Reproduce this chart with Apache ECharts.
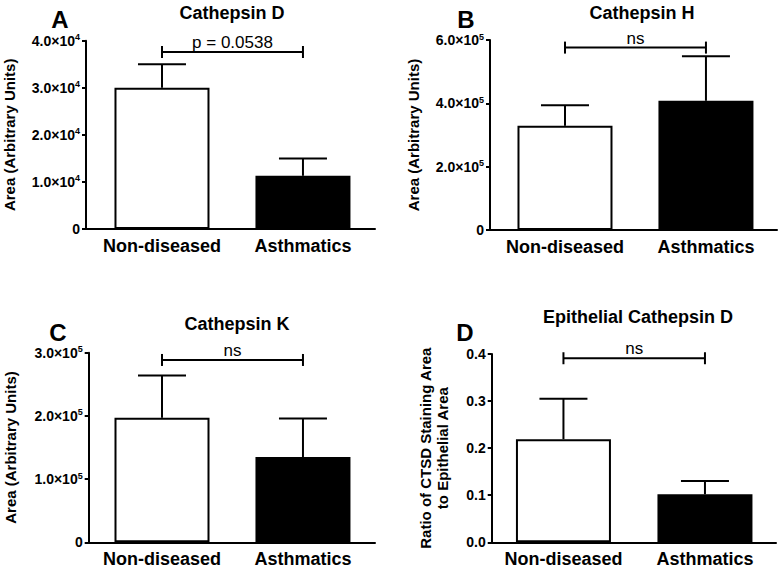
<!DOCTYPE html>
<html>
<head>
<meta charset="utf-8">
<script src="https://cdn.jsdelivr.net/npm/echarts@6/dist/echarts.min.js"></script>
<style>
html, body { margin: 0; padding: 0; background: #fff; }
#chart { width: 782px; height: 569px; }
</style>
</head>
<body>
<div id="chart"></div>
<script>
// groups on the x axis
var groups = ['Non-diseased', 'Asthmatics'];

// bar heights (mean) and upper error (SEM) per panel
var cathDMean = [30000, 11300];
var cathDSem = [5000, 3700];
var cathHMean = [329000, 408000];
var cathHSem = [65000, 141000];
var cathKMean = [197000, 135000];
var cathKSem = [67000, 61000];
var epiDMean = [0.219, 0.102];
var epiDSem = [0.086, 0.028];

// significance brackets
var bracketY = [37600, 576000, 288500, 0.391];
var bracketText = ['p = 0.0538', 'ns', 'ns', 'ns'];

// y axis ticks: max, step, power of ten shown in the labels
var yMax = [40000, 600000, 300000, 0.4];
var yStep = [10000, 200000, 100000, 0.1];
var yPow = [4, 5, 5, 0];

var titles = ['Cathepsin D', 'Cathepsin H', 'Cathepsin K', 'Epithelial Cathepsin D'];
var letters = ['A', 'B', 'C', 'D'];
var yNames = ['Area (Arbitrary Units)', 'Area (Arbitrary Units)', 'Area (Arbitrary Units)',
	'Ratio of CTSD Staining Area\nto Epithelial Area'];

var means = [cathDMean, cathHMean, cathKMean, epiDMean];
var sems = [cathDSem, cathHSem, cathKSem, epiDSem];

var FONT = '"Liberation Sans", Arial, Helvetica, sans-serif';

/* layout of the four panels (pixels) */
var grids = [
	{ left: 86, top: 40.7, width: 289, height: 188.3 },
	{ left: 490, top: 40, width: 287, height: 190 },
	{ left: 88.7, top: 352.7, width: 286.3, height: 189.6 },
	{ left: 491.7, top: 354, width: 284.3, height: 188.3 }
];
var xRange = [[-0.539, 1.511], [-0.532, 1.504], [-0.52, 1.511], [-0.507, 1.502]];
var nameGaps = [68, 68, 70, 41];
var titlePos = [[232, 13], [642, 13], [237, 324], [638, 317]];
var letterPos = [[60, 19], [466, 19], [58, 332], [465, 332]];

function tickFormatter(i) {
	return function (v) {
		if (yPow[i] === 0) return v.toFixed(1);
		if (v === 0) return '0';
		var m = (v / Math.pow(10, yPow[i])).toFixed(1);
		return '{m|' + m + '×10}{e|' + yPow[i] + '}';
	};
}

var option = {
	animation: false,
	grid: [],
	xAxis: [],
	yAxis: [],
	series: [],
	graphic: []
};

for (var i = 0; i < 4; i++) {
	option.grid.push(grids[i]);

	option.xAxis.push({
		gridIndex: i,
		type: 'value',
		min: xRange[i][0],
		max: xRange[i][1],
		axisLine: { show: true, onZero: false, lineStyle: { color: '#000', width: 2 } },
		axisTick: { show: false },
		splitLine: { show: false },
		axisLabel: {
			customValues: [0, 1],
			formatter: function (v) { return groups[v] || ''; },
			margin: 8,
			color: '#000',
			fontFamily: FONT,
			fontWeight: 'bold',
			fontSize: 18
		}
	});

	option.yAxis.push({
		gridIndex: i,
		type: 'value',
		min: 0,
		max: yMax[i],
		interval: yStep[i],
		name: yNames[i],
		nameLocation: 'middle',
		nameGap: nameGaps[i],
		nameTextStyle: {
			color: '#000',
			fontFamily: FONT,
			fontWeight: 'bold',
			fontSize: 15,
			lineHeight: 17
		},
		axisLine: { show: true, onZero: false, lineStyle: { color: '#000', width: 2 } },
		axisTick: { show: true, length: 4, lineStyle: { color: '#000', width: 2 } },
		splitLine: { show: false },
		axisLabel: {
			margin: 6,
			color: '#000',
			fontFamily: FONT,
			fontWeight: 'bold',
			fontSize: 14,
			formatter: tickFormatter(i),
			rich: {
				m: { fontFamily: FONT, fontWeight: 'bold', fontSize: 14, color: '#000', lineHeight: 16 },
				e: { fontFamily: FONT, fontWeight: 'bold', fontSize: 9, color: '#000', lineHeight: 8, verticalAlign: 'top' }
			}
		}
	});

	/* bars */
	option.series.push({
		type: 'bar',
		xAxisIndex: i,
		yAxisIndex: i,
		barWidth: 95,
		silent: true,
		z: 2,
		data: means[i].map(function (v, j) {
			return {
				value: [j, v],
				itemStyle: {
					color: j === 0 ? '#fff' : '#000',
					borderColor: '#000',
					borderWidth: 2
				}
			};
		})
	});

	/* error bars (upper only) */
	option.series.push({
		type: 'custom',
		xAxisIndex: i,
		yAxisIndex: i,
		silent: true,
		z: 3,
		data: means[i].map(function (v, j) { return [j, v, v + sems[i][j]]; }),
		renderItem: function (params, api) {
			var b = api.coord([api.value(0), api.value(1)]);
			var t = api.coord([api.value(0), api.value(2)]);
			var st = { stroke: '#000', lineWidth: 2 };
			return {
				type: 'group',
				children: [
					{ type: 'line', shape: { x1: b[0], y1: b[1], x2: t[0], y2: t[1] }, style: st },
					{ type: 'line', shape: { x1: t[0] - 24, y1: t[1], x2: t[0] + 24, y2: t[1] }, style: st }
				]
			};
		}
	});

	/* significance bracket */
	option.series.push({
		type: 'custom',
		xAxisIndex: i,
		yAxisIndex: i,
		silent: true,
		z: 3,
		data: [[0, 1, bracketY[i], i]],
		renderItem: function (params, api) {
			var a = api.coord([api.value(0), api.value(2)]);
			var c = api.coord([api.value(1), api.value(2)]);
			var st = { stroke: '#000', lineWidth: 2 };
			return {
				type: 'group',
				children: [
					{ type: 'line', shape: { x1: a[0], y1: a[1], x2: c[0], y2: c[1] }, style: st },
					{ type: 'line', shape: { x1: a[0], y1: a[1] - 6, x2: a[0], y2: a[1] + 6 }, style: st },
					{ type: 'line', shape: { x1: c[0], y1: c[1] - 6, x2: c[0], y2: c[1] + 6 }, style: st },
					{
						type: 'text',
						style: {
							text: bracketText[api.value(3)],
							x: (a[0] + c[0]) / 2,
							y: a[1] - 1,
							align: 'center',
							verticalAlign: 'bottom',
							fontFamily: FONT,
							fontSize: 17,
							fill: '#000'
						}
					}
				]
			};
		}
	});

	option.graphic.push({
		type: 'text',
		x: titlePos[i][0],
		y: titlePos[i][1],
		style: {
			text: titles[i],
			align: 'center',
			verticalAlign: 'middle',
			fontFamily: FONT,
			fontWeight: 'bold',
			fontSize: 18,
			fill: '#000'
		}
	});
	option.graphic.push({
		type: 'text',
		x: letterPos[i][0],
		y: letterPos[i][1],
		style: {
			text: letters[i],
			align: 'center',
			verticalAlign: 'middle',
			fontFamily: FONT,
			fontWeight: 'bold',
			fontSize: 24,
			fill: '#000'
		}
	});
}

var chart = echarts.init(document.getElementById('chart'), null, { renderer: 'svg' });
chart.setOption(option);
</script>
</body>
</html>
